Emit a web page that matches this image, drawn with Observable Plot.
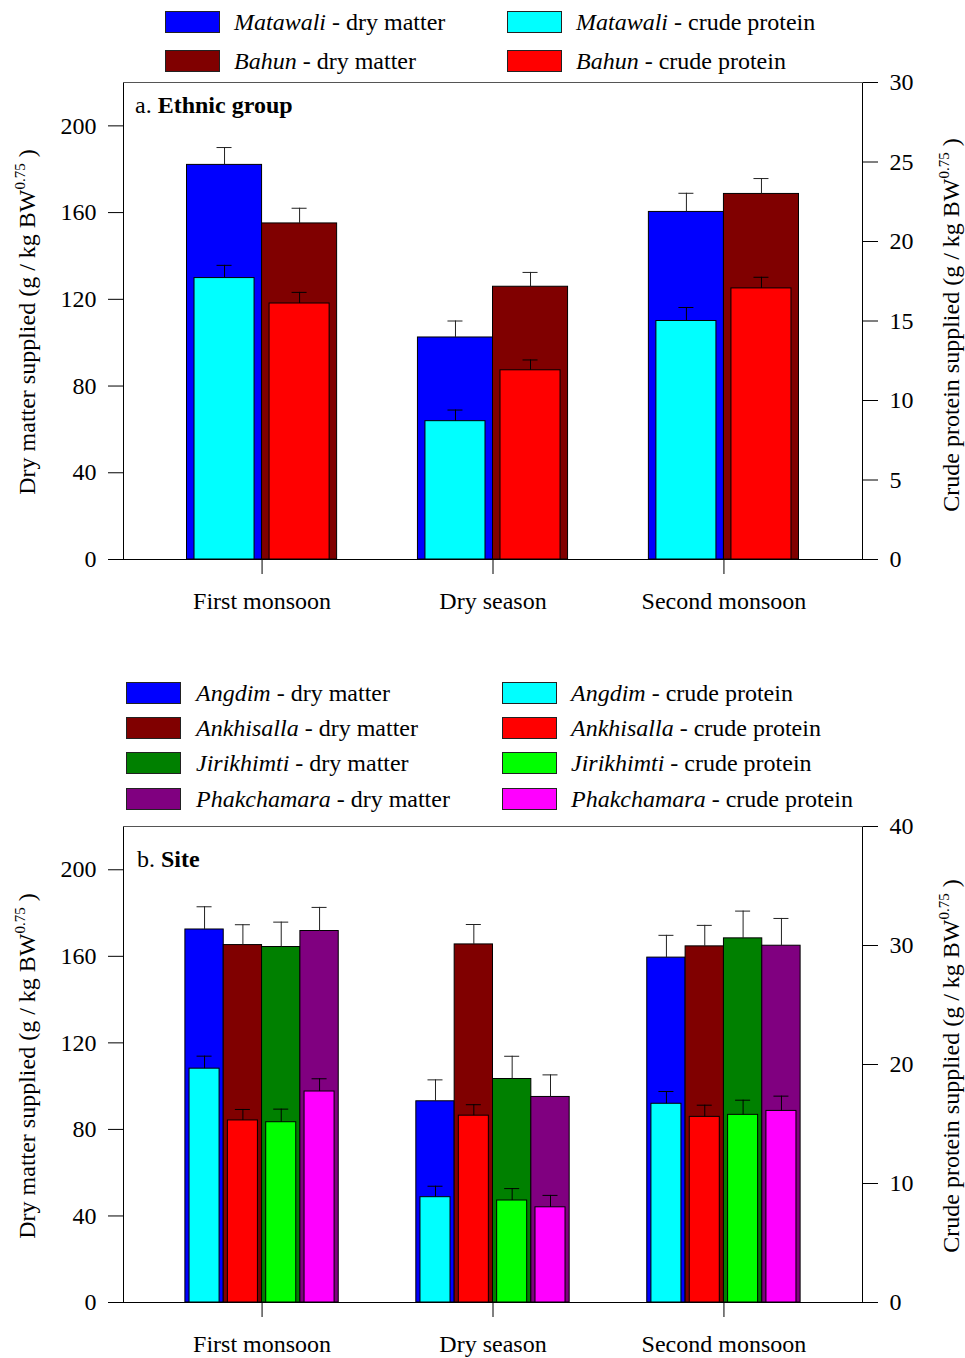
<!DOCTYPE html>
<html>
<head>
<meta charset="utf-8">
<script src="https://cdn.jsdelivr.net/npm/d3@7"></script>
<script src="https://cdn.jsdelivr.net/npm/@observablehq/plot@0.6"></script>
<style>
  html, body { margin: 0; padding: 0; background: #fff; }
  #page { position: relative; width: 965px; height: 1358px; overflow: hidden;
          font-family: 'Liberation Serif', 'Times New Roman', serif; color: #000; }
  .legend { position: relative; width: 965px; }
  .box { position: absolute; width: 55px; height: 22px; box-sizing: border-box; border: 1px solid #222; }
  .lab { position: absolute; font-size: 24px; line-height: 28px; white-space: nowrap; }
  svg { display: block; }
</style>
</head>
<body>
<div id="page">
  <div id="legendA" class="legend" style="height:75px"></div>
  <div id="plotA"></div>
  <div id="legendB" class="legend" style="height:145px"></div>
  <div id="plotB"></div>
</div>
<script>
// ---------- shared ----------
const seasons = ["First monsoon", "Dry season", "Second monsoon"];
const dmTicks = [0, 40, 80, 120, 160, 200];

// ---------- panel a: ethnic group ----------
const ethnicGroups = ["Matawali", "Bahun"];
const matawaliDM = [182.0, 102.4, 160.3];
const matawaliDMse = [8.0, 7.6, 8.6];
const bahunDM = [155.0, 125.8, 168.6];
const bahunDMse = [7.0, 6.6, 7.1];
const matawaliCP = [17.7, 8.7, 15.0];
const matawaliCPse = [0.8, 0.7, 0.85];
const bahunCP = [16.1, 11.9, 17.05];
const bahunCPse = [0.7, 0.65, 0.7];
const ethnicDMColors = ["#0000ff", "#800000"];
const ethnicCPColors = ["#00ffff", "#ff0000"];
const cpTicksA = [0, 5, 10, 15, 20, 25, 30];

// ---------- panel b: site ----------
const sites = ["Angdim", "Ankhisalla", "Jirikhimti", "Phakchamara"];
const angdimDM = [172.4, 93.0, 159.4];
const angdimDMse = [10.5, 9.9, 10.3];
const ankhisallaDM = [165.2, 165.5, 164.6];
const ankhisallaDMse = [9.4, 9.2, 9.7];
const jirikhimtiDM = [164.3, 103.3, 168.3];
const jirikhimtiDMse = [11.5, 10.5, 12.6];
const phakchamaraDM = [171.7, 95.0, 164.9];
const phakchamaraDMse = [10.9, 10.2, 12.6];
const angdimCP = [19.65, 8.85, 16.7];
const angdimCPse = [1.05, 0.92, 1.03];
const ankhisallaCP = [15.3, 15.7, 15.6];
const ankhisallaCPse = [0.92, 0.92, 0.98];
const jirikhimtiCP = [15.15, 8.57, 15.77];
const jirikhimtiCPse = [1.1, 1.0, 1.23];
const phakchamaraCP = [17.73, 8.0, 16.1];
const phakchamaraCPse = [1.07, 1.0, 1.24];
const siteDMColors = ["#0000ff", "#800000", "#008000", "#800080"];
const siteCPColors = ["#00ffff", "#ff0000", "#00ff00", "#ff00ff"];
const cpTicksB = [0, 10, 20, 30, 40];

const DM_MAX = 220;
const FONT = "'Liberation Serif', 'Times New Roman', serif";

function panel(cfg) {
  const k = DM_MAX / cfg.cpMax;
  const n = cfg.groups.length;
  const dmRows = [], cpRows = [];
  cfg.groups.forEach((g, j) => seasons.forEach((s, i) => {
    const xc = i + (j - (n - 1) / 2) * cfg.barW;
    dmRows.push({xc, x1: xc - cfg.barW / 2, x2: xc + cfg.barW / 2,
                 v: cfg.dm[j][i], top: cfg.dm[j][i] + cfg.dmSE[j][i], fill: cfg.dmColors[j]});
    cpRows.push({xc, x1: xc - cfg.cpW / 2, x2: xc + cfg.cpW / 2,
                 v: cfg.cp[j][i] * k, top: (cfg.cp[j][i] + cfg.cpSE[j][i]) * k, fill: cfg.cpColors[j]});
  }));
  const cap = 0.0325;
  const err = (rows, color) => [
    Plot.ruleX(rows, {x: "xc", y1: "v", y2: "top", stroke: color, strokeWidth: 1}),
    Plot.ruleY(rows, {y: "top", x1: d => d.xc - cap, x2: d => d.xc + cap, stroke: color, strokeWidth: 1})
  ];
  const svg = Plot.plot({
    width: 965, height: cfg.height,
    marginLeft: 123, marginRight: 103, marginTop: cfg.marginTop, marginBottom: cfg.marginBottom,
    style: {fontFamily: FONT, fontSize: "24px", color: "#000", background: "#fff", overflow: "visible"},
    x: {domain: [-0.6, 2.6]},
    y: {domain: [0, DM_MAX]},
    color: {type: "identity"},
    marks: [
      Plot.rectY(dmRows, {x1: "x1", x2: "x2", y1: 0, y2: "v", fill: "fill", stroke: "#000", strokeWidth: 1}),
      ...err(dmRows, "#222"),
      Plot.rectY(cpRows, {x1: "x1", x2: "x2", y1: 0, y2: "v", fill: "fill", stroke: "#000", strokeWidth: 1}),
      ...err(cpRows, "#000"),
      Plot.ruleX([-0.6, 2.6], {stroke: "#000"}),
      Plot.ruleY([DM_MAX], {stroke: "#555", insetRight: -15}),
      Plot.ruleY([0], {stroke: "#000", insetLeft: -15, insetRight: -15}),
      Plot.axisY({ticks: dmTicks, tickSize: 15, tickPadding: 12, label: null, tickFormat: d => String(d)}),
      Plot.axisY({anchor: "right", ticks: cfg.cpTicks.map(v => v * k), tickSize: 15, tickPadding: 12,
                  label: null, tickFormat: v => String(Math.round(v / k))}),
      Plot.axisX({ticks: [0, 1, 2], tickFormat: i => seasons[i], tickSize: 15, tickPadding: 17, label: null})
    ]
  });
  const s = d3.select(svg);
  // panel title
  const t = s.append("text").attr("x", cfg.titleX).attr("y", cfg.titleY).attr("text-anchor", "start")
    .attr("font-family", FONT).attr("font-size", 24).attr("fill", "#000");
  t.append("tspan").text(cfg.titlePrefix + " ");
  t.append("tspan").attr("font-weight", "bold").text(cfg.title);
  // axis titles with superscript
  const yLabel = (x, y, main) => {
    const lt = s.append("text").attr("transform", `translate(${x},${y}) rotate(-90)`)
      .attr("text-anchor", "middle").attr("font-family", FONT).attr("font-size", 24).attr("fill", "#000");
    lt.append("tspan").text(main + " (g / kg BW");
    lt.append("tspan").attr("dy", -10).attr("font-size", 15).text("0.75");
    lt.append("tspan").attr("dy", 10).text(" )");
  };
  yLabel(35, cfg.leftLabelY, "Dry matter supplied");
  yLabel(959, cfg.rightLabelY, "Crude protein supplied");
  return svg;
}

function legend(el, groups, dmColors, cpColors, cols, rows) {
  const mk = (boxX, textX, cy, color, name, what) => {
    const b = document.createElement("div");
    b.className = "box"; b.style.left = boxX + "px"; b.style.top = (cy - 11) + "px"; b.style.background = color;
    el.appendChild(b);
    const l = document.createElement("div");
    l.className = "lab"; l.style.left = textX + "px"; l.style.top = (cy - 14) + "px";
    const i = document.createElement("i"); i.textContent = name;
    l.appendChild(i); l.appendChild(document.createTextNode(" - " + what));
    el.appendChild(l);
  };
  groups.forEach((g, j) => {
    mk(cols[0][0], cols[0][1], rows[j], dmColors[j], g, "dry matter");
    mk(cols[1][0], cols[1][1], rows[j], cpColors[j], g, "crude protein");
  });
}

legend(document.getElementById("legendA"), ethnicGroups, ethnicDMColors, ethnicCPColors,
       [[165, 234], [507, 576]], [22, 61]);
legend(document.getElementById("legendB"), sites, siteDMColors, siteCPColors,
       [[126, 196], [502, 571]], [23, 58, 93, 129]);

document.getElementById("plotA").appendChild(panel({
  groups: ethnicGroups,
  dm: [matawaliDM, bahunDM], dmSE: [matawaliDMse, bahunDMse],
  cp: [matawaliCP, bahunCP], cpSE: [matawaliCPse, bahunCPse],
  dmColors: ethnicDMColors, cpColors: ethnicCPColors,
  barW: 0.325, cpW: 0.26, cpMax: 30, cpTicks: cpTicksA,
  height: 595, marginTop: 7, marginBottom: 111,
  titlePrefix: "a.", title: "Ethnic group", titleX: 135, titleY: 38,
  leftLabelY: 247, rightLabelY: 250
}));

document.getElementById("plotB").appendChild(panel({
  groups: sites,
  dm: [angdimDM, ankhisallaDM, jirikhimtiDM, phakchamaraDM],
  dmSE: [angdimDMse, ankhisallaDMse, jirikhimtiDMse, phakchamaraDMse],
  cp: [angdimCP, ankhisallaCP, jirikhimtiCP, phakchamaraCP],
  cpSE: [angdimCPse, ankhisallaCPse, jirikhimtiCPse, phakchamaraCPse],
  dmColors: siteDMColors, cpColors: siteCPColors,
  barW: 0.166, cpW: 0.13, cpMax: 40, cpTicks: cpTicksB,
  height: 543, marginTop: 11, marginBottom: 56,
  titlePrefix: "b.", title: "Site", titleX: 137, titleY: 52,
  leftLabelY: 251, rightLabelY: 251
}));
</script>
</body>
</html>
